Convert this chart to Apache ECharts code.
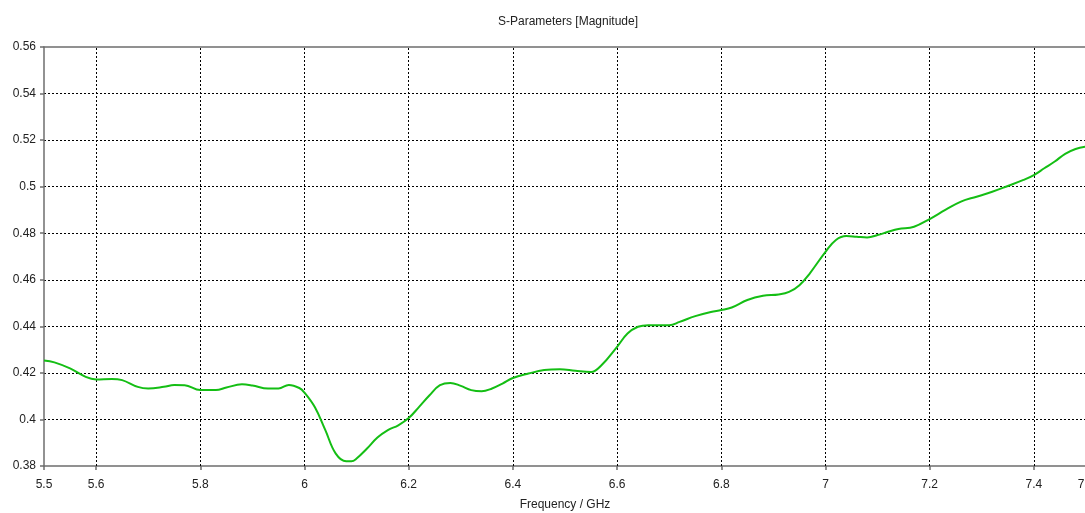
<!DOCTYPE html>
<html>
<head>
<meta charset="utf-8">
<title>S-Parameters [Magnitude]</title>
<script src="https://cdn.jsdelivr.net/npm/echarts@6/dist/echarts.min.js"></script>
<style>
  html, body { margin: 0; padding: 0; background: #fff; }
  #chart { width: 1085px; height: 513px; }
</style>
</head>
<body>
<div id="chart"></div>
<script>
// Frequency sweep (GHz) and |S| magnitude
const freq = [
  5.50, 5.52, 5.55, 5.58, 5.60, 5.63, 5.65, 5.68, 5.70, 5.73, 5.75, 5.77,
  5.80, 5.83, 5.85, 5.88, 5.90, 5.93, 5.95, 5.97, 5.99, 6.00, 6.02, 6.04,
  6.06, 6.08, 6.09, 6.10, 6.12, 6.14, 6.16, 6.18, 6.20, 6.22, 6.24, 6.26,
  6.28, 6.30, 6.32, 6.34, 6.36, 6.38, 6.40, 6.43, 6.46, 6.49, 6.52, 6.55,
  6.57, 6.60, 6.62, 6.64, 6.66, 6.70, 6.72, 6.75, 6.78, 6.80, 6.82, 6.85,
  6.88, 6.91, 6.93, 6.95, 6.97, 7.00, 7.02, 7.04, 7.06, 7.08, 7.10, 7.12,
  7.14, 7.17, 7.20, 7.23, 7.26, 7.29, 7.32, 7.35, 7.38, 7.40, 7.42, 7.44,
  7.46, 7.48, 7.50
];
const magnitude = [
  0.4253, 0.4245, 0.4219, 0.4183, 0.4172, 0.4174, 0.4169, 0.4140, 0.4133, 0.4140, 0.4148, 0.4147,
  0.4126, 0.4126, 0.4137, 0.4151, 0.4146, 0.4133, 0.4133, 0.4148, 0.4135, 0.4115, 0.4052, 0.3954,
  0.3853, 0.3820, 0.3820, 0.3832, 0.3875, 0.3922, 0.3954, 0.3975, 0.4006, 0.4054, 0.4104, 0.4147,
  0.4157, 0.4144, 0.4126, 0.4121, 0.4133, 0.4154, 0.4178, 0.4197, 0.4212, 0.4216, 0.4209, 0.4204,
  0.4233, 0.4312, 0.4369, 0.4398, 0.4405, 0.4405, 0.4419, 0.4444, 0.4462, 0.4470, 0.4481, 0.4513,
  0.4531, 0.4537, 0.4548, 0.4577, 0.4628, 0.4720, 0.4771, 0.4788, 0.4785, 0.4782, 0.4792, 0.4806,
  0.4818, 0.4828, 0.4861, 0.4900, 0.4936, 0.4957, 0.4978, 0.5003, 0.5029, 0.5050, 0.5079, 0.5108,
  0.5141, 0.5162, 0.5172
];

// Axis tick positions
const xTicks = [5.5, 5.6, 5.8, 6.0, 6.2, 6.4, 6.6, 6.8, 7.0, 7.2, 7.4, 7.5];
const xGridLines = [5.6, 5.8, 6.0, 6.2, 6.4, 6.6, 6.8, 7.0, 7.2, 7.4];

const FONT = 'Liberation Sans';
const gridDash = { color: '#000', width: 1, type: [2, 2] };
const axisGray = { color: '#6e6e6e', width: 1.5 };

const chart = echarts.init(document.getElementById('chart'), null, { renderer: 'canvas' });

chart.setOption({
  animation: false,
  backgroundColor: '#fff',
  title: {
    text: 'S-Parameters [Magnitude]',
    left: 563,
    textAlign: 'center',
    top: 11,
    textStyle: { fontFamily: FONT, fontSize: 12, fontWeight: 'normal', color: '#222' }
  },
  grid: {
    left: 44, top: 47, width: 1042, height: 419,
    containLabel: false,
    outerBoundsMode: 'none'
  },
  xAxis: [
    {
      type: 'value',
      min: 5.5,
      max: 7.5,
      name: 'Frequency / GHz',
      nameLocation: 'middle',
      nameGap: 33,
      nameTextStyle: { fontFamily: FONT, fontSize: 12, color: '#222' },
      axisLine: { show: true, onZero: false, lineStyle: axisGray },
      axisTick: { show: true, length: 4, customValues: xTicks, lineStyle: axisGray },
      axisLabel: {
        customValues: xTicks,
        margin: 13,
        hideOverlap: false,
        fontFamily: FONT, fontSize: 12, color: '#222',
        formatter: v => String(+v.toFixed(1))
      },
      splitLine: { show: false }
    },
    {
      type: 'value',
      position: 'top',
      min: 5.5,
      max: 7.5,
      axisLine: { show: true, onZero: false, lineStyle: axisGray },
      axisTick: { show: false },
      axisLabel: { show: false },
      splitLine: { show: false }
    }
  ],
  yAxis: {
    type: 'value',
    min: 0.38,
    max: 0.56,
    interval: 0.02,
    axisLine: { show: true, onZero: false, lineStyle: axisGray },
    axisTick: { show: true, length: 4, lineStyle: axisGray },
    axisLabel: {
      margin: 8,
      fontFamily: FONT, fontSize: 12, color: '#222',
      formatter: v => String(+v.toFixed(2))
    },
    splitLine: { show: true, showMinLine: false, showMaxLine: false, lineStyle: gridDash }
  },
  series: [{
    type: 'line',
    xAxisIndex: 0,
    data: freq.map((f, i) => [f, magnitude[i]]),
    smooth: 0.4,
    showSymbol: false,
    clip: true,
    lineStyle: { color: '#14be14', width: 2 },
    markLine: {
      silent: true,
      symbol: 'none',
      label: { show: false },
      lineStyle: gridDash,
      z: 1,
      data: xGridLines.map(x => ({ xAxis: x }))
    },
    z: 3
  }]
});
</script>
</body>
</html>
